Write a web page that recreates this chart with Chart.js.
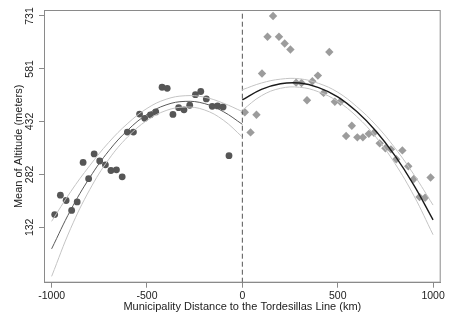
<!DOCTYPE html>
<html>
<head>
<meta charset="utf-8">
<script src="https://cdn.jsdelivr.net/npm/chart.js@4"></script>
<style>
  html, body { margin: 0; padding: 0; background: #fff; }
</style>
</head>
<body>
<canvas id="rdChart" width="449" height="320"></canvas>
<script>
// binned means, west of the line (circles)
var leftX = [-984, -954, -924, -895, -866, -835, -806, -777, -748, -718, -689, -660, -630, -603, -571, -539,
             -512, -482, -454, -421, -394, -364, -334, -306, -276, -246, -218, -189, -158, -130, -101, -70];
var leftY = [168, 223, 208, 180, 204, 316, 270, 340, 320, 309, 293, 295, 275, 402, 402, 453,
             441, 451, 459, 529, 526, 452, 471, 465, 478, 508, 517, 496, 475, 476, 473, 335];

// binned means, east of the line (diamonds)
var rightX = [13, 43, 74, 103, 132, 161, 192, 222, 252, 282, 310, 339, 367, 396, 426, 456, 485,
              514, 544, 574, 603, 632, 663, 690, 720, 750, 779, 807, 839, 870, 899, 929, 958, 987];
var rightY = [458, 401, 451, 568, 672, 731, 672, 653, 636, 542, 541, 492, 546, 562, 513, 629, 488,
              488, 391, 420, 387, 387, 397, 400, 370, 356, 353, 325, 350, 305, 269, 218, 216, 273];

// quadratic fits with 95% CI
var leftFitX = [-1000, -900, -800, -700, -600, -500, -400, -300, -200, -100, 0];
var leftFit = [71, 181, 273, 349, 408, 452, 479, 489, 483, 460, 424];
var leftUpper = [149, 233, 307, 373, 427, 469, 495, 505, 501, 484, 460];
var leftLower = [-7, 129, 239, 325, 389, 435, 463, 473, 465, 436, 388];

var rightFitX = [0, 100, 200, 300, 400, 500, 600, 700, 800, 900, 1000];
var rightFit = [493, 523, 539, 541, 528, 502, 460, 405, 335, 251, 153];
var rightUpper = [522, 541, 552, 553, 540, 515, 474, 422, 357, 281, 195];
var rightLower = [464, 505, 526, 529, 516, 489, 446, 388, 313, 221, 111];

var xTicks = [-1000, -500, 0, 500, 1000];
var yTicks = [132, 282, 432, 581, 731];
var cutoff = 0;
var xMin = -1040, xMax = 1040, yMin = -25, yMax = 748;

function pts(xs, ys) {
  return xs.map(function (x, i) { return {x: x, y: ys[i]}; });
}

function fitLine(xs, ys, color, width) {
  return {
    type: 'line',
    data: pts(xs, ys),
    borderColor: color,
    borderWidth: width,
    pointRadius: 0,
    fill: false,
    tension: 0.4
  };
}

// box around the plot region
var frame = {
  id: 'frame',
  afterDatasetsDraw: function (chart) {
    var a = chart.chartArea, ctx = chart.ctx;
    ctx.save();
    ctx.strokeStyle = '#8a8a8a';
    ctx.lineWidth = 1;
    ctx.strokeRect(a.left + 0.5, a.top + 0.5, a.right - a.left - 1, a.bottom - a.top - 1);
    ctx.restore();
  }
};

var font = {family: 'Liberation Sans, Arial, sans-serif', size: 10.5};

new Chart(document.getElementById('rdChart'), {
  type: 'scatter',
  data: {
    datasets: [
      fitLine(rightFitX, rightFit, '#1a1a1a', 1.4),
      fitLine(rightFitX, rightUpper, '#c4c4c4', 1),
      fitLine(rightFitX, rightLower, '#c4c4c4', 1),
      fitLine(leftFitX, leftFit, '#5a5a5a', 1),
      fitLine(leftFitX, leftUpper, '#c4c4c4', 1),
      fitLine(leftFitX, leftLower, '#c4c4c4', 1),
      {
        type: 'line',
        data: [{x: cutoff, y: yMin}, {x: cutoff, y: yMax}],
        borderColor: '#555',
        borderWidth: 1,
        borderDash: [5, 3],
        pointRadius: 0
      },
      {
        data: pts(leftX, leftY),
        pointStyle: 'circle',
        pointRadius: 3.4,
        pointBackgroundColor: '#565656',
        pointBorderWidth: 0
      },
      {
        data: pts(rightX, rightY),
        pointStyle: 'rectRot',
        pointRadius: 4.2,
        pointBackgroundColor: '#9c9c9c',
        pointBorderWidth: 0
      }
    ]
  },
  options: {
    responsive: false,
    animation: false,
    devicePixelRatio: 1,
    layout: {padding: {top: 10, right: 8.3, left: 0, bottom: 0}},
    plugins: {legend: {display: false}, tooltip: {enabled: false}},
    scales: {
      x: {
        type: 'linear',
        min: xMin, max: xMax,
        afterBuildTicks: function (s) { s.ticks = xTicks.map(function (v) { return {value: v}; }); },
        afterFit: function (s) { s.height = 37.3; },
        grid: {drawOnChartArea: false, drawTicks: true, tickLength: 5, color: '#8a8a8a'},
        border: {color: '#8a8a8a'},
        ticks: {font: font, color: '#222', padding: 2, maxRotation: 0,
                callback: function (v) { return String(v); }},
        title: {display: true, text: 'Municipality Distance to the Tordesillas Line (km)',
                font: {family: font.family, size: 11}, color: '#222', padding: {top: 0, bottom: 6.7}}
      },
      y: {
        type: 'linear',
        min: yMin, max: yMax,
        afterBuildTicks: function (s) { s.ticks = yTicks.map(function (v) { return {value: v}; }); },
        afterFit: function (s) { s.width = 44; },
        grid: {drawOnChartArea: false, drawTicks: true, tickLength: 5, color: '#8a8a8a'},
        border: {color: '#8a8a8a'},
        ticks: {font: font, color: '#222', padding: 0, minRotation: 90, maxRotation: 90, crossAlign: 'center',
                callback: function (v) { return String(v); }},
        title: {display: true, text: 'Mean of Altitude (meters)',
                font: {family: font.family, size: 11}, color: '#222', padding: {top: 12, bottom: 0}}
      }
    }
  },
  plugins: [frame]
});
</script>
</body>
</html>
